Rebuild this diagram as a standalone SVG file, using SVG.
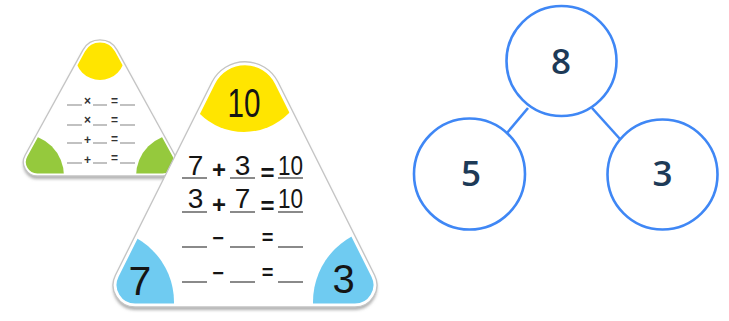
<svg xmlns="http://www.w3.org/2000/svg" width="729" height="321" viewBox="0 0 729 321">
<style>
.card{fill:#fff}
.edge{fill:none;stroke:#c4c4c4;stroke-width:1.3}
.inset{fill:none;stroke:#fff;stroke-width:7}
.ul{stroke:#8a8a8a;stroke-width:2}
.uls{stroke:#a0a0a0;stroke-width:1.3}
.big{font-family:"Liberation Sans",Arial,sans-serif;fill:#151515;text-anchor:middle}
.op{font-weight:bold}
.sym{font-family:"Liberation Sans",Arial,sans-serif;fill:#333;font-weight:bold;text-anchor:middle}
.node circle{fill:#fff;stroke:#3f87f5;stroke-width:2.6}
.node text{font-family:"Open Sans","Noto Sans",sans-serif;font-weight:600;font-size:35px;fill:#1d3a57;text-anchor:middle}
.conn{stroke:#3f87f5;stroke-width:2.6}
</style>
<defs>
<filter id="sh" x="-10%" y="-10%" width="120%" height="130%">
<feDropShadow dx="0" dy="3" stdDeviation="1.6" flood-color="#7a7a7a" flood-opacity="0.6"/>
</filter>
<path id="smallShape" d="M 25.1 155.2 L 82.9 50.1 A 19.5 19.5 0 0 1 117.1 50.1 L 174.9 155.2 A 14 14 0 0 1 162.7 176 L 37.3 176 A 14 14 0 0 1 25.1 155.2 Z"/>
<path id="bigShape" d="M 115.4 275.2 L 211.9 82.2 A 37 37 0 0 1 278.1 82.2 L 374.6 275.2 A 22 22 0 0 1 354.9 307 L 135.1 307 A 22 22 0 0 1 115.4 275.2 Z"/>
<clipPath id="clipSmall"><use href="#smallShape"/></clipPath>
<clipPath id="clipBig"><use href="#bigShape"/></clipPath>
</defs>

<g id="card-small">
<use href="#smallShape" class="card" filter="url(#sh)"/>
<g clip-path="url(#clipSmall)">
<circle cx="100" cy="55" r="25" fill="#ffe500"/>
<circle cx="22" cy="176" r="42" fill="#95c93d"/>
<circle cx="178" cy="176" r="42" fill="#95c93d"/>
<use href="#smallShape" class="inset" style="stroke-width:5"/>
</g>
<use href="#smallShape" class="edge"/>
<g>
<line class="uls" x1="67" y1="105" x2="82" y2="105"/><line class="uls" x1="93" y1="105" x2="107" y2="105"/><line class="uls" x1="120" y1="105" x2="135" y2="105"/>
<line class="uls" x1="67" y1="125" x2="82" y2="125"/><line class="uls" x1="93" y1="125" x2="107" y2="125"/><line class="uls" x1="120" y1="125" x2="135" y2="125"/>
<line class="uls" x1="67" y1="143" x2="82" y2="143"/><line class="uls" x1="93" y1="143" x2="107" y2="143"/><line class="uls" x1="120" y1="143" x2="135" y2="143"/>
<line class="uls" x1="67" y1="163" x2="82" y2="163"/><line class="uls" x1="93" y1="163" x2="107" y2="163"/><line class="uls" x1="120" y1="163" x2="135" y2="163"/>
</g>
<text class="sym" x="87.5" y="105" font-size="12">×</text>
<text class="sym" x="114.5" y="105" font-size="12">=</text>
<text class="sym" x="87.5" y="124" font-size="12">×</text>
<text class="sym" x="114.5" y="124" font-size="12">=</text>
<text class="sym" x="87.5" y="144" font-size="12">+</text>
<text class="sym" x="114.5" y="143" font-size="12">=</text>
<text class="sym" x="87.5" y="163.5" font-size="12">+</text>
<text class="sym" x="114.5" y="162" font-size="12">=</text>
</g>

<g id="card-big">
<use href="#bigShape" class="card" filter="url(#sh)"/>
<g clip-path="url(#clipBig)">
<circle cx="244" cy="69" r="63" fill="#ffe500"/>
<circle cx="101" cy="302" r="73" fill="#6fcbf1"/>
<circle cx="388" cy="302" r="75" fill="#6fcbf1"/>
<use href="#bigShape" class="inset"/>
</g>
<use href="#bigShape" class="edge"/>
<text class="big" x="244" y="117" font-size="41" textLength="33" lengthAdjust="spacingAndGlyphs">10</text>
<text class="big" x="140" y="295" font-size="41">7</text>
<text class="big" x="343.5" y="293" font-size="40">3</text>
<g>
<line class="ul" x1="182" y1="178" x2="207" y2="178"/><line class="ul" x1="230" y1="178" x2="255" y2="178"/><line class="ul" x1="278" y1="178" x2="303" y2="178"/>
<line class="ul" x1="182" y1="212" x2="207" y2="212"/><line class="ul" x1="230" y1="212" x2="255" y2="212"/><line class="ul" x1="278" y1="212" x2="303" y2="212"/>
<line class="ul" x1="182" y1="247" x2="207" y2="247"/><line class="ul" x1="230" y1="247" x2="255" y2="247"/><line class="ul" x1="278" y1="247" x2="303" y2="247"/>
<line class="ul" x1="182" y1="282" x2="207" y2="282"/><line class="ul" x1="230" y1="282" x2="255" y2="282"/><line class="ul" x1="278" y1="282" x2="303" y2="282"/>
</g>
<text class="big" x="195.5" y="175" font-size="28">7</text>
<text class="big op" x="219" y="178" font-size="24">+</text>
<text class="big" x="242.5" y="175" font-size="28">3</text>
<text class="big op" x="267.5" y="181" font-size="24">=</text>
<text class="big" x="290.5" y="175" font-size="28" textLength="25" lengthAdjust="spacingAndGlyphs">10</text>
<text class="big" x="195.5" y="208" font-size="28">3</text>
<text class="big op" x="219" y="213" font-size="24">+</text>
<text class="big" x="242.5" y="208" font-size="28">7</text>
<text class="big op" x="267.5" y="214" font-size="24">=</text>
<text class="big" x="290.5" y="208" font-size="28" textLength="25" lengthAdjust="spacingAndGlyphs">10</text>
<text class="big op" x="218" y="244.5" font-size="20">−</text>
<text class="big op" x="267.5" y="244" font-size="20">=</text>
<text class="big op" x="218" y="279.5" font-size="20">−</text>
<text class="big op" x="267.5" y="279" font-size="20">=</text>
</g>

<g id="connectors">
<line class="conn" x1="528" y1="108" x2="507" y2="133"/>
<line class="conn" x1="592" y1="108" x2="620" y2="139"/>
</g>

<g id="node-8" class="node">
<circle cx="561.5" cy="61" r="55"/>
<text x="561" y="74">8</text>
</g>
<g id="node-5" class="node">
<circle cx="469.5" cy="174" r="55.5"/>
<text x="471" y="185.5">5</text>
</g>
<g id="node-3" class="node">
<circle cx="662.5" cy="174.5" r="55"/>
<text x="662.5" y="186">3</text>
</g>
</svg>
